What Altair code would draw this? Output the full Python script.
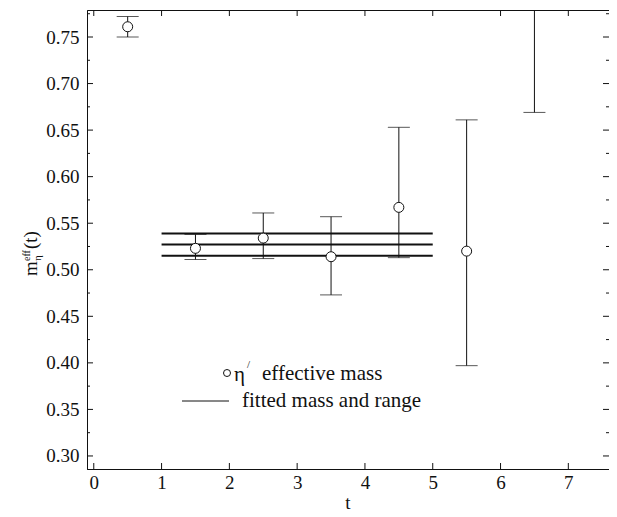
import altair as alt
import pandas as pd

# ---- data ----
t_points = [0.5, 1.5, 2.5, 3.5, 4.5, 5.5]
m_eff = [0.761, 0.523, 0.534, 0.514, 0.567, 0.520]
err_lo = [0.750, 0.511, 0.512, 0.473, 0.513, 0.397]
err_hi = [0.772, 0.538, 0.561, 0.557, 0.653, 0.661]

# t = 6.5: only the lower part of the error bar is inside the frame
t_bar_only = [6.5]
bar_only_lo = [0.669]
bar_only_hi = [0.90]

fit_range = [1, 5]
fit_values = [0.515, 0.527, 0.539]

x_ticks = [0, 1, 2, 3, 4, 5, 6, 7]
y_major = [0.30, 0.35, 0.40, 0.45, 0.50, 0.55, 0.60, 0.65, 0.70, 0.75]
y_minor = [0.325, 0.375, 0.425, 0.475, 0.525, 0.575, 0.625, 0.675, 0.725, 0.775]

legend_symbol_text = ["η", "/", "effective mass"]
legend_line_text = ["fitted mass and range"]
y_title_parts = ["m", "eff", "η", "(t)"]
x_title = ["t"]

W, H = 522, 459
FONT = "Liberation Serif"
INK = "#111111"
LBL = 19

xs = alt.Scale(domain=[-0.1, 7.6], nice=False, zero=False)
ys = alt.Scale(domain=[0.286, 0.779], nice=False, zero=False)

pts = pd.DataFrame({"t": t_points, "m": m_eff, "lo": err_lo, "hi": err_hi})
bars_all = pd.DataFrame({
    "t": t_points + t_bar_only,
    "lo": err_lo + bar_only_lo,
    "hi": err_hi + bar_only_hi,
})
fit_df = pd.DataFrame({"t0": [fit_range[0]] * 3, "t1": [fit_range[1]] * 3, "m": fit_values})
xt = pd.DataFrame({"t": x_ticks})
ymaj = pd.DataFrame({"v": y_major})
ymin = pd.DataFrame({"v": y_minor})

x_axis = alt.Axis(values=x_ticks, format="d", ticks=False, grid=False,
                  domainColor=INK, domainWidth=1, labelPadding=4,
                  labelFont=FONT, labelFontSize=LBL, labelColor=INK, title="")
y_axis = alt.Axis(values=y_major, format=".2f", ticks=False, grid=False,
                  domainColor=INK, domainWidth=1, labelPadding=8,
                  labelFont=FONT, labelFontSize=LBL, labelColor=INK, title="")

XQ = lambda f: alt.X(f, scale=xs, axis=x_axis)
YQ = lambda f: alt.Y(f, scale=ys, axis=y_axis)

# error bar stems and caps
stems = alt.Chart(bars_all).mark_rule(color=INK, strokeWidth=1, clip=True).encode(
    x=XQ("t:Q"), y=YQ("lo:Q"), y2="hi:Q")
caps_lo = alt.Chart(bars_all).mark_tick(color=INK, thickness=1, size=22,
                                        orient="horizontal", clip=True).encode(
    x=XQ("t:Q"), y=YQ("lo:Q"))
caps_hi = alt.Chart(bars_all).mark_tick(color=INK, thickness=1, size=22,
                                        orient="horizontal", clip=True).encode(
    x=XQ("t:Q"), y=YQ("hi:Q"))

points = alt.Chart(pts).mark_point(shape="circle", filled=True, fill="white",
                                   stroke=INK, strokeWidth=1, size=100,
                                   opacity=1).encode(
    x=XQ("t:Q"), y=YQ("m:Q"))

fit = alt.Chart(fit_df).mark_rule(color=INK, strokeWidth=2).encode(
    x=XQ("t0:Q"), x2="t1:Q", y=YQ("m:Q"))

# inward ticks on all four sides
xt_bot = alt.Chart(xt).mark_rule(color=INK, strokeWidth=1).encode(
    x=XQ("t:Q"), y=alt.value(H), y2=alt.value(H - 6))
xt_top = alt.Chart(xt).mark_rule(color=INK, strokeWidth=1).encode(
    x=XQ("t:Q"), y=alt.value(0), y2=alt.value(6))
yl_maj = alt.Chart(ymaj).mark_rule(color=INK, strokeWidth=1).encode(
    y=YQ("v:Q"), x=alt.value(0), x2=alt.value(6))
yr_maj = alt.Chart(ymaj).mark_rule(color=INK, strokeWidth=1).encode(
    y=YQ("v:Q"), x=alt.value(W), x2=alt.value(W - 6))
yl_min = alt.Chart(ymin).mark_rule(color=INK, strokeWidth=1).encode(
    y=YQ("v:Q"), x=alt.value(0), x2=alt.value(3))
yr_min = alt.Chart(ymin).mark_rule(color=INK, strokeWidth=1).encode(
    y=YQ("v:Q"), x=alt.value(W), x2=alt.value(W - 3))


def label(text, size, x, y, baseline="middle", angle=None, align="left"):
    df = pd.DataFrame({"s": [text]})
    kw = dict(font=FONT, fontSize=size, align=align, baseline=baseline, color=INK)
    if angle is not None:
        kw["angle"] = angle
    return alt.Chart(df).mark_text(**kw).encode(
        x=alt.value(x), y=alt.value(y), text="s:N")


# x title
xtitle = label(x_title[0], LBL, W / 2, H + 40, "alphabetic", None, "center")

# legend
leg_df = pd.DataFrame({"s": [legend_symbol_text[2]]})
leg_sym = alt.Chart(leg_df).mark_point(shape="circle", filled=True, fill="white",
                                       stroke=INK, strokeWidth=1, size=49,
                                       opacity=1).encode(
    x=alt.value(140), y=alt.value(363))
leg_eta = label(legend_symbol_text[0], 21, 147, 365)
leg_prime = label(legend_symbol_text[1], 11, 160, 355)
leg_txt1 = label(legend_symbol_text[2], 21, 175, 364)
leg_line = alt.Chart(pd.DataFrame({"s": legend_line_text})).mark_rule(
    color=INK, strokeWidth=1).encode(
    x=alt.value(95), x2=alt.value(142), y=alt.value(391))
leg_txt2 = label(legend_line_text[0], 21, 155, 391)

# y title  m_eta^eff(t), rotated
ytitle = (label(y_title_parts[0], 19, -50, 266, "alphabetic", 270)
          + label(y_title_parts[1], 10, -57, 251, "alphabetic", 270)
          + label(y_title_parts[2], 11, -46, 251, "alphabetic", 270)
          + label(y_title_parts[3], 19, -50, 239, "alphabetic", 270))

chart = alt.layer(
    fit, stems, caps_lo, caps_hi, points,
    xt_bot, xt_top, yl_maj, yr_maj, yl_min, yr_min,
    leg_sym, leg_eta, leg_prime, leg_txt1, leg_line, leg_txt2, ytitle, xtitle,
).properties(
    width=W, height=H,
    background="white",
    autosize=alt.AutoSizeParams(type="none"),
    padding={"left": 79, "top": 2, "right": 0, "bottom": 44},
).configure(font=FONT).configure_view(stroke=INK, strokeWidth=1).configure_axis(
    labelFont=FONT, labelFontSize=LBL, labelColor=INK,
    titleFont=FONT, titleFontSize=LBL, titleFontWeight="normal", titleColor=INK,
)

chart.save("out.html", embed_options={"renderer": "svg", "actions": False})
